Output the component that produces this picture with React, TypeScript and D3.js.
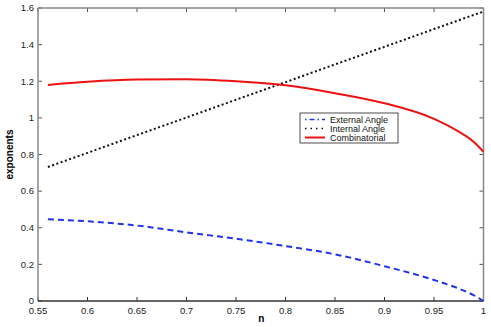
import { useEffect, useRef } from 'react';
import * as d3 from 'd3';

const xTicks = [0.55, 0.6, 0.65, 0.7, 0.75, 0.8, 0.85, 0.9, 0.95, 1];
const yTicks = [0, 0.2, 0.4, 0.6, 0.8, 1, 1.2, 1.4, 1.6];

const nValues = [0.56, 0.6, 0.65, 0.7, 0.75, 0.8, 0.85, 0.9, 0.95, 0.975, 0.99, 1.0];
const externalAngle = [0.447, 0.435, 0.412, 0.375, 0.34, 0.3, 0.255, 0.19, 0.115, 0.068, 0.032, 0.0];
const internalAngle = [0.732, 0.809, 0.906, 1.002, 1.099, 1.195, 1.292, 1.388, 1.485, 1.533, 1.562, 1.58];
const combinatorial = [1.18, 1.197, 1.209, 1.211, 1.2, 1.178, 1.135, 1.08, 0.995, 0.925, 0.87, 0.815];

const legendLabels = ['External Angle', 'Internal Angle', 'Combinatorial'];

export default function App() {
  const ref = useRef<SVGSVGElement | null>(null);

  useEffect(() => {
    if (!ref.current) return;
    const W = 491, H = 327;
    const svg = d3.select(ref.current);
    svg.selectAll('*').remove();

    const left = 38, right = 483.5, top = 8, bottom = 301;
    const x = d3.scaleLinear().domain([0.55, 1]).range([left, right]);
    const y = d3.scaleLinear().domain([0, 1.6]).range([bottom, top]);
    const font = 'Liberation Sans, Arial, sans-serif';

    svg.append('rect').attr('width', W).attr('height', H).attr('fill', '#fff');

    // ticks (inward, on all four sides)
    const tl = 4;
    xTicks.forEach(t => {
      svg.append('line').attr('x1', x(t)).attr('x2', x(t)).attr('y1', bottom).attr('y2', bottom - tl).attr('stroke', '#333');
      svg.append('line').attr('x1', x(t)).attr('x2', x(t)).attr('y1', top).attr('y2', top + tl).attr('stroke', '#555');
      svg.append('text').attr('x', x(t)).attr('y', bottom + 13).attr('text-anchor', 'middle')
        .attr('font-family', font).attr('font-size', 9.5).attr('fill', '#222').text(String(t));
    });
    yTicks.forEach(t => {
      svg.append('line').attr('x1', left).attr('x2', left + tl).attr('y1', y(t)).attr('y2', y(t)).attr('stroke', '#555');
      svg.append('line').attr('x1', right).attr('x2', right - tl).attr('y1', y(t)).attr('y2', y(t)).attr('stroke', '#555');
      svg.append('text').attr('x', left - 4).attr('y', y(t)).attr('dy', '0.35em').attr('text-anchor', 'end')
        .attr('font-family', font).attr('font-size', 9.5).attr('fill', '#222').text(String(t));
    });

    // frame
    svg.append('line').attr('x1', left).attr('x2', right).attr('y1', top).attr('y2', top).attr('stroke', '#888').attr('stroke-width', 1.5);
    svg.append('line').attr('x1', right).attr('x2', right).attr('y1', top).attr('y2', bottom).attr('stroke', '#888').attr('stroke-width', 1.5);
    svg.append('line').attr('x1', left).attr('x2', left).attr('y1', top).attr('y2', bottom).attr('stroke', '#888').attr('stroke-width', 1.5);
    svg.append('line').attr('x1', left).attr('x2', right).attr('y1', bottom).attr('y2', bottom).attr('stroke', '#333').attr('stroke-width', 1.5);

    const line = d3.line<number>().x((_, i) => x(nValues[i])).y(d => y(d)).curve(d3.curveMonotoneX);

    const series = [
      { data: externalAngle, color: '#2233ee', dash: '6,4', width: 2 },
      { data: internalAngle, color: '#111', dash: '2,2.5', width: 2 },
      { data: combinatorial, color: '#ee1111', dash: null, width: 2 },
    ];
    series.forEach(s => {
      const p = svg.append('path').attr('d', line(s.data)).attr('fill', 'none')
        .attr('stroke', s.color).attr('stroke-width', s.width);
      if (s.dash) p.attr('stroke-dasharray', s.dash);
    });

    // legend
    const lg = svg.append('g').attr('transform', 'translate(300,113)');
    lg.append('rect').attr('width', 98).attr('height', 30).attr('fill', '#fff').attr('stroke', '#222').attr('stroke-width', 0.8);
    series.forEach((s, i) => {
      const ly = 6.5 + i * 9;
      const l = lg.append('line').attr('x1', 5).attr('x2', 25).attr('y1', ly).attr('y2', ly)
        .attr('stroke', s.color).attr('stroke-width', s.dash ? 1.5 : 2);
      if (s.dash) l.attr('stroke-dasharray', i === 0 ? '1.5,3,5,3' : '1.5,4');
      lg.append('text').attr('x', 30).attr('y', ly).attr('dy', '0.35em')
        .attr('font-family', font).attr('font-size', 9).attr('fill', '#111').text(legendLabels[i]);
    });

    // axis labels
    svg.append('text').attr('x', (left + right) / 2 + 0.5).attr('y', 322).attr('text-anchor', 'middle')
      .attr('font-family', font).attr('font-size', 10).attr('font-weight', 'bold').text('n');
    svg.append('text').attr('transform', `translate(13,${(top + bottom) / 2}) rotate(-90)`).attr('text-anchor', 'middle')
      .attr('font-family', font).attr('font-size', 10).attr('font-weight', 'bold').text('exponents');
  }, []);

  return <svg ref={ref} width={491} height={327} style={{ position: 'absolute', left: 0, top: 0, display: 'block' }} />;
}
